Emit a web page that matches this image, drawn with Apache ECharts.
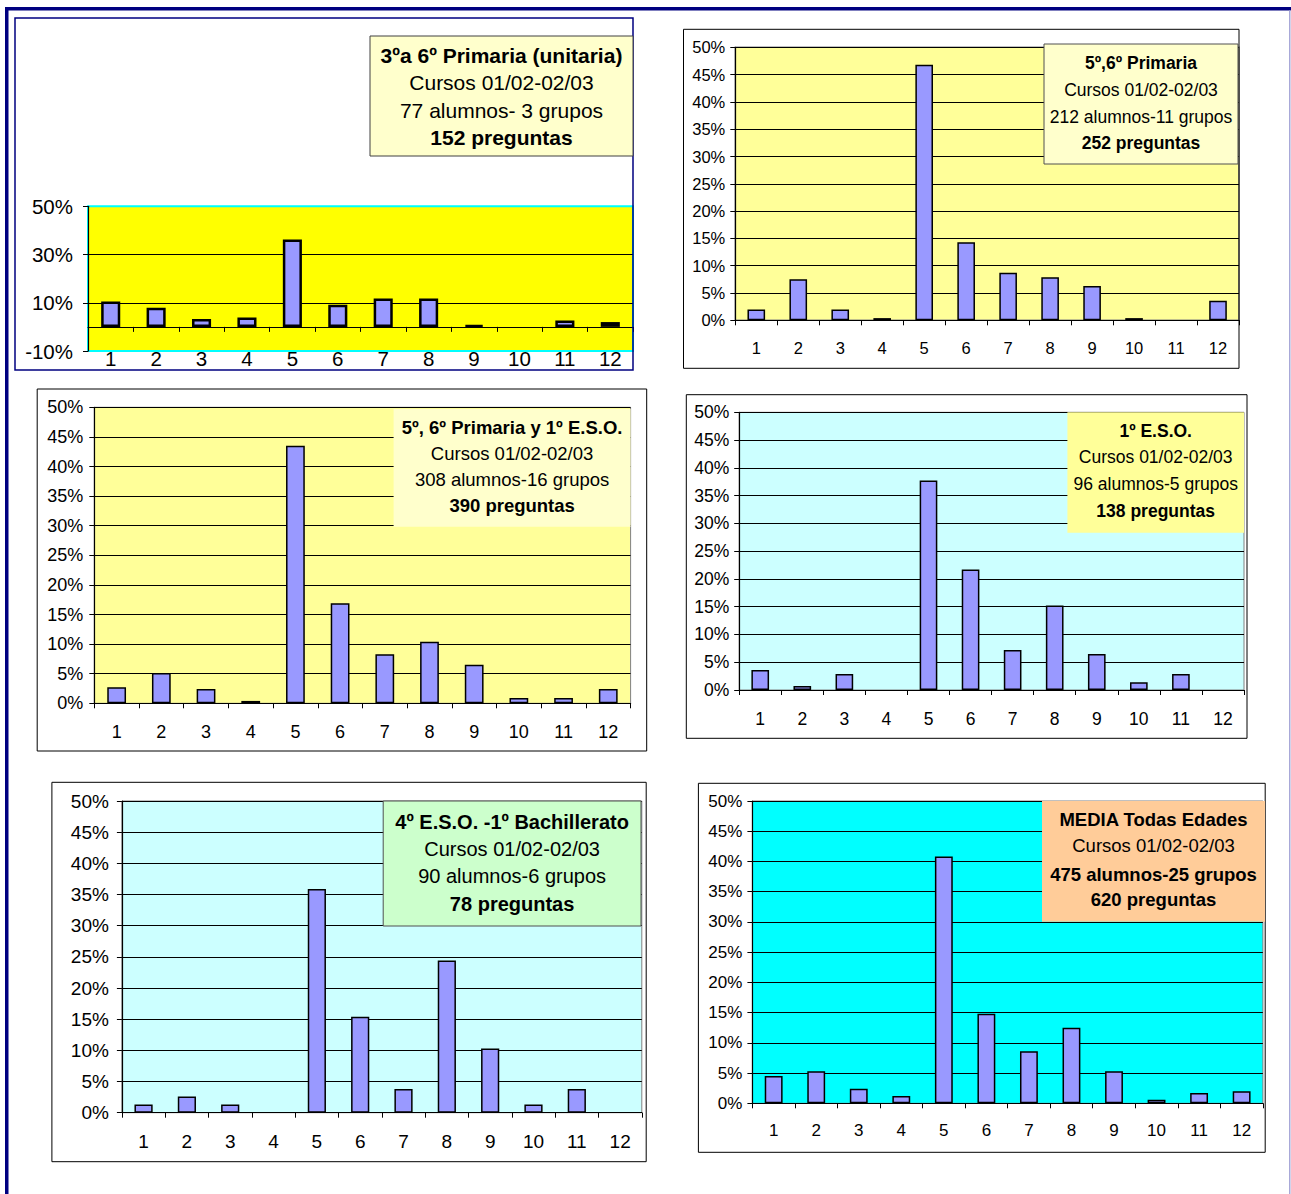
<!DOCTYPE html>
<html>
<head>
<meta charset="utf-8">
<title>Distribución de preguntas por categoría</title>
<script src="https://cdn.jsdelivr.net/npm/echarts@6/dist/echarts.min.js"></script>
<style>
  html, body { margin: 0; padding: 0; background: #ffffff; }
  #chart { width: 1291px; height: 1194px; }
</style>
</head>
<body>
<div id="chart"></div>
<script>
// Categories on the x axis (1..12)
const categories = ['1', '2', '3', '4', '5', '6', '7', '8', '9', '10', '11', '12'];

// Percentage of questions per category, one array per group
const primariaUnitaria = [10.5, 7.9, 3.3, 3.9, 36.2, 9.2, 11.8, 11.8, 0.7, 0, 2.6, 2.0];
const primaria56 = [2.0, 7.5, 2.0, 0.4, 46.8, 14.3, 8.7, 7.9, 6.3, 0.4, 0, 3.6];
const primariaEso = [2.7, 5.1, 2.4, 0.4, 43.5, 16.9, 8.3, 10.4, 6.5, 0.9, 0.9, 2.4];
const eso1 = [3.6, 0.7, 2.9, 0, 37.7, 21.7, 7.2, 15.2, 6.5, 1.4, 2.9, 0];
const eso4Bach = [1.3, 2.6, 1.3, 0, 35.9, 15.4, 3.8, 24.4, 10.3, 1.3, 3.8, 0];
const mediaTodas = [4.5, 5.3, 2.4, 1.2, 40.8, 14.8, 8.6, 12.5, 5.3, 0.6, 1.7, 2.0];

// Caption lines for each chart
const textUnitaria = ['3ºa 6º Primaria (unitaria)', 'Cursos 01/02-02/03', '77 alumnos- 3 grupos', '152 preguntas'];
const text56 = ['5º,6º Primaria', 'Cursos 01/02-02/03', '212 alumnos-11 grupos', '252 preguntas'];
const textPrimariaEso = ['5º, 6º Primaria y 1º E.S.O.', 'Cursos 01/02-02/03', '308 alumnos-16 grupos', '390 preguntas'];
const textEso1 = ['1º E.S.O.', 'Cursos 01/02-02/03', '96 alumnos-5 grupos', '138 preguntas'];
const textEso4Bach = ['4º E.S.O. -1º Bachillerato', 'Cursos 01/02-02/03', '90 alumnos-6 grupos', '78 preguntas'];
const textMedia = ['MEDIA Todas Edades', 'Cursos 01/02-02/03', '475 alumnos-25 grupos', '620 preguntas'];

// Y axis ranges (percent)
const yMinUnitaria = -10, yMaxUnitaria = 50, yStepUnitaria = 20;
const yMin = 0, yMax = 50, yStep = 5;

const FONT = '"Liberation Sans", Arial, sans-serif';
const BAR_COLOR = '#9999FF';

// Layout and styling of the six charts
const panels = [
  {
    values: primariaUnitaria, lines: textUnitaria, bold: [true, false, false, true],
    frame: [15, 18, 618, 352], frameColor: '#000080', frameWidth: 1.5,
    grid: [88, 206.3, 545, 144.7], plotBg: '#FFFF00', plotBorder: '#00FFFF', plotBorderWidth: 2,
    yMin: yMinUnitaria, yMax: yMaxUnitaria, yStep: yStepUnitaria, hideEdgeLines: true,
    font: 20.5, xMargin: -3, yMargin: 15, barBorder: 2.5,
    box: [370, 36, 263, 120], boxFill: '#FFFFCC', boxStroke: '#404040',
    lineY: [55, 82.5, 110.5, 137.5], textSize: 21
  },
  {
    values: primaria56, lines: text56, bold: [true, false, false, true],
    frame: [683.5, 29.3, 555.5, 339], frameColor: '#000000', frameWidth: 1,
    grid: [735.3, 47.3, 503.7, 273], plotBg: '#FFFF99', plotBorder: '#808080', plotBorderWidth: 1.5,
    yMin, yMax, yStep, hideEdgeLines: false,
    font: 16.5, xMargin: 19, yMargin: 10, barBorder: 1.5,
    box: [1044, 44, 194, 120], boxFill: '#FFFFCC', boxStroke: '#505050',
    lineY: [63, 90, 116.7, 143], textSize: 17.5
  },
  {
    values: primariaEso, lines: textPrimariaEso, bold: [true, false, false, true],
    frame: [37.2, 389, 609.5, 362], frameColor: '#000000', frameWidth: 1,
    grid: [94.3, 407.3, 536.3, 296], plotBg: '#FFFF99', plotBorder: '#808080', plotBorderWidth: 1,
    yMin, yMax, yStep, hideEdgeLines: false,
    font: 18, xMargin: 20, yMargin: 11, barBorder: 1.5,
    box: [393.6, 409, 237, 117.7], boxFill: '#FFFFCC', boxStroke: null,
    lineY: [427.3, 453, 479, 505.7], textSize: 18.5
  },
  {
    values: eso1, lines: textEso1, bold: [true, false, false, true],
    frame: [686.3, 394.7, 560.7, 343.6], frameColor: '#000000', frameWidth: 1,
    grid: [739.2, 412.3, 504.8, 277.7], plotBg: '#CCFFFF', plotBorder: '#808080', plotBorderWidth: 1,
    yMin, yMax, yStep, hideEdgeLines: false,
    font: 17.5, xMargin: 19.5, yMargin: 10, barBorder: 1.5,
    box: [1067.4, 412.3, 176.6, 120.4], boxFill: '#FFFF99', boxStroke: null,
    lineY: [430.7, 456.7, 484, 510.7], textSize: 17.5
  },
  {
    values: eso4Bach, lines: textEso4Bach, bold: [true, false, false, true],
    frame: [51.9, 782.3, 594.3, 379.4], frameColor: '#000000', frameWidth: 1,
    grid: [121.9, 801, 519.9, 311.7], plotBg: '#CCFFFF', plotBorder: '#808080', plotBorderWidth: 1,
    yMin, yMax, yStep, hideEdgeLines: false,
    font: 19, xMargin: 19, yMargin: 13, barBorder: 1.5,
    box: [383.2, 801, 257.8, 125], boxFill: '#CCFFCC', boxStroke: '#505050',
    lineY: [821.7, 849, 876, 904], textSize: 20
  },
  {
    values: mediaTodas, lines: textMedia, bold: [true, false, true, true],
    frame: [698.4, 783.3, 566.8, 369], frameColor: '#000000', frameWidth: 1,
    grid: [752.4, 801, 510.5, 302.3], plotBg: '#00FFFF', plotBorder: '#808080', plotBorderWidth: 1,
    yMin, yMax, yStep, hideEdgeLines: false,
    font: 17, xMargin: 19, yMargin: 10, barBorder: 1.5,
    box: [1042, 801, 223, 120.7], boxFill: '#FFCC99', boxStroke: null,
    lineY: [819.3, 845.7, 874, 899.7], textSize: 18.5
  }
];

const grids = [], xAxes = [], yAxes = [], series = [], graphics = [];

// Page frame: thick navy rule on top and left, thin lavender rule on the right
graphics.push(
  { type: 'rect', shape: { x: 5, y: 7, width: 1286, height: 3.5 }, style: { fill: '#000080' }, z: 1 },
  { type: 'rect', shape: { x: 5, y: 7, width: 3.5, height: 1187 }, style: { fill: '#000080' }, z: 1 },
  { type: 'rect', shape: { x: 1289, y: 10.5, width: 1.5, height: 1184 }, style: { fill: '#A8A8D8' }, z: 1 }
);

panels.forEach((p, i) => {
  grids.push({
    left: p.grid[0], top: p.grid[1], width: p.grid[2], height: p.grid[3],
    show: true, backgroundColor: p.plotBg, borderColor: p.plotBorder, borderWidth: p.plotBorderWidth,
    containLabel: false
  });

  const labelStyle = { color: '#000', fontSize: p.font, fontFamily: FONT, interval: 0 };
  const lineStyle = { color: '#000', width: 1.2 };
  const tickStyle = { color: '#000', width: 1 };
  const xIndex = xAxes.length;

  if (p.yMin < 0) {
    // Category labels stay along the bottom edge of the plot...
    xAxes.push({
      type: 'category', gridIndex: i, position: 'bottom', data: categories, boundaryGap: true,
      axisLine: { show: false, onZero: false },
      axisTick: { show: false },
      axisLabel: Object.assign({ margin: p.xMargin }, labelStyle),
      splitLine: { show: false }
    });
    // ...while the axis line and its ticks sit at the 0% level
    const zeroOffset = -p.grid[3] * (0 - p.yMin) / (p.yMax - p.yMin);
    xAxes.push({
      type: 'category', gridIndex: i, position: 'bottom', data: categories, boundaryGap: true,
      offset: zeroOffset,
      axisLine: { show: true, onZero: false, lineStyle },
      axisTick: { show: true, length: 5, alignWithLabel: false, lineStyle: tickStyle },
      axisLabel: { show: false },
      splitLine: { show: false }
    });
  } else {
    xAxes.push({
      type: 'category', gridIndex: i, position: 'bottom', data: categories, boundaryGap: true,
      axisLine: { show: true, onZero: true, lineStyle },
      axisTick: { show: true, length: 5, alignWithLabel: false, lineStyle: tickStyle },
      axisLabel: Object.assign({ margin: p.xMargin }, labelStyle),
      splitLine: { show: false }
    });
  }

  yAxes.push({
    type: 'value', gridIndex: i, position: 'left', min: p.yMin, max: p.yMax, interval: p.yStep,
    axisLine: { show: true, onZero: false, lineStyle },
    axisTick: { show: true, length: 5, lineStyle: tickStyle },
    axisLabel: { color: '#000', fontSize: p.font, fontFamily: FONT, margin: p.yMargin, formatter: '{value}%' },
    splitLine: {
      show: true, showMinLine: !p.hideEdgeLines, showMaxLine: !p.hideEdgeLines,
      lineStyle: { color: '#000', width: 1 }
    }
  });

  // Empty categories get no outline so nothing shows on the baseline
  const barData = p.values.map(v => (v === 0 ? { value: v, itemStyle: { borderWidth: 0, opacity: 0 } } : v));
  series.push({
    type: 'bar', xAxisIndex: xIndex, yAxisIndex: i, data: barData,
    barWidth: '42%', silent: true, animation: false, z: 3,
    itemStyle: { color: BAR_COLOR, borderColor: '#000', borderWidth: p.barBorder }
  });

  // Outline of the chart area
  graphics.push({
    type: 'rect', z: 2,
    shape: { x: p.frame[0], y: p.frame[1], width: p.frame[2], height: p.frame[3] },
    style: { fill: 'none', stroke: p.frameColor, lineWidth: p.frameWidth }
  });

  // Caption box
  graphics.push({
    type: 'rect', z: 100,
    shape: { x: p.box[0], y: p.box[1], width: p.box[2], height: p.box[3] },
    style: { fill: p.boxFill, stroke: p.boxStroke || 'none', lineWidth: p.boxStroke ? 1 : 0 }
  });
  const cx = p.box[0] + p.box[2] / 2;
  p.lines.forEach((line, k) => {
    graphics.push({
      type: 'text', z: 101, x: cx, y: p.lineY[k],
      style: {
        text: line, fill: '#000',
        fontSize: p.textSize, fontFamily: FONT, fontWeight: p.bold[k] ? 'bold' : 'normal',
        align: 'center', verticalAlign: 'middle',
        textAlign: 'center', textVerticalAlign: 'middle'
      }
    });
  });
});

const chart = echarts.init(document.getElementById('chart'), null, { renderer: 'svg' });
chart.setOption({
  animation: false,
  backgroundColor: '#ffffff',
  grid: grids,
  xAxis: xAxes,
  yAxis: yAxes,
  series: series,
  graphic: { elements: graphics }
});
</script>
</body>
</html>
